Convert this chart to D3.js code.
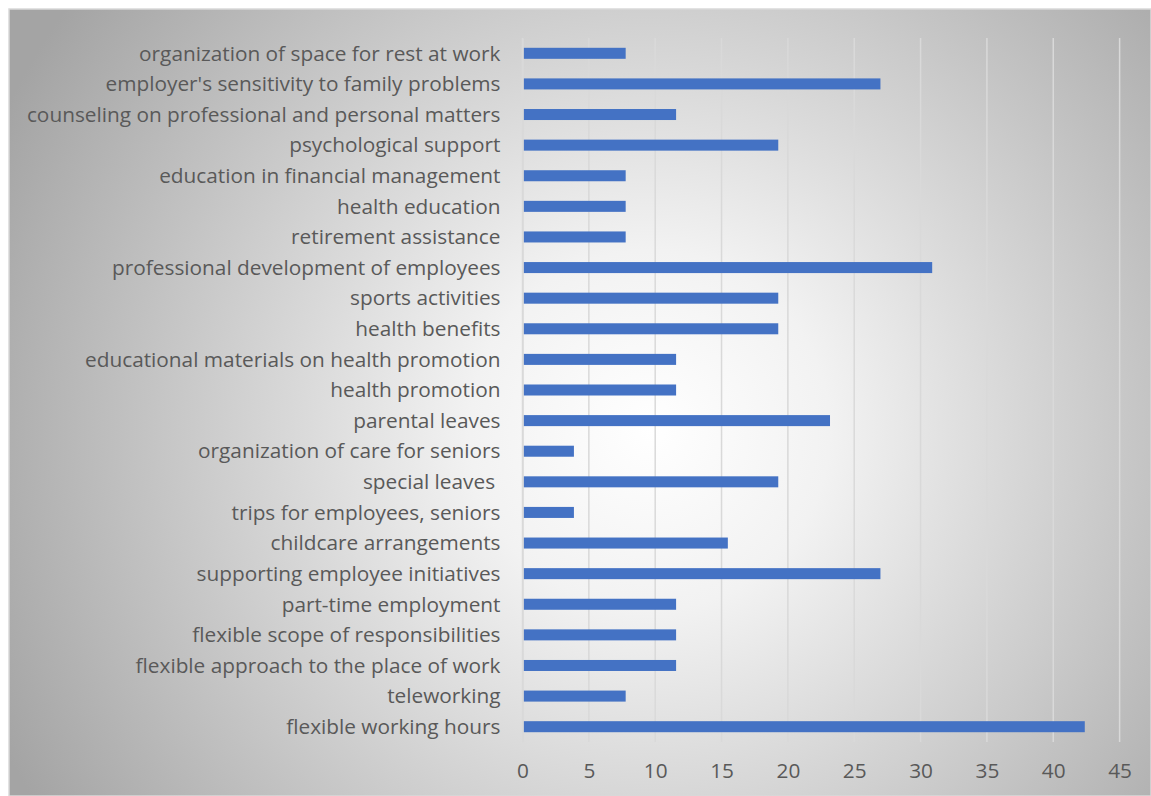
<!DOCTYPE html>
<html>
<head>
<meta charset="utf-8">
<script src="https://cdn.jsdelivr.net/npm/d3@7"></script>
<style>
  html, body { margin: 0; padding: 0; background: #fff; }
  svg { display: block; }
  text { font-family: "Open Sans", Lato, sans-serif; }
</style>
</head>
<body>
<svg id="chart" width="1151" height="796"></svg>
<script>
const categories = [
  "organization of space for rest at work",
  "employer's sensitivity to family problems",
  "counseling on professional and personal matters",
  "psychological support",
  "education in financial management",
  "health education",
  "retirement assistance",
  "professional development of employees",
  "sports activities",
  "health benefits",
  "educational materials on health promotion",
  "health promotion",
  "parental leaves",
  "organization of care for seniors",
  "special leaves ",
  "trips for employees, seniors",
  "childcare arrangements",
  "supporting employee initiatives",
  "part-time employment",
  "flexible scope of responsibilities",
  "flexible approach to the place of work",
  "teleworking",
  "flexible working hours"
];
const values = [7.7, 26.9, 11.5, 19.2, 7.7, 7.7, 7.7, 30.8, 19.2, 19.2, 11.5, 11.5, 23.1, 3.8, 19.2, 3.8, 15.4, 26.9, 11.5, 11.5, 11.5, 7.7, 42.3];
const xTicks = [0, 5, 10, 15, 20, 25, 30, 35, 40, 45];

const W = 1151, H = 796;
const svg = d3.select("#chart");
const defs = svg.append("defs");
const grad = defs.append("radialGradient")
  .attr("id", "bg").attr("gradientUnits", "userSpaceOnUse")
  .attr("cx", 650).attr("cy", 430).attr("r", 720);
grad.append("stop").attr("offset", "0%").attr("stop-color", "#ffffff");
grad.append("stop").attr("offset", "25%").attr("stop-color", "#f2f2f2");
grad.append("stop").attr("offset", "100%").attr("stop-color", "#a4a4a4");

svg.append("rect").attr("x", 0).attr("y", 0).attr("width", W).attr("height", H).attr("fill", "#ffffff");
svg.append("rect").attr("x", 9).attr("y", 9).attr("width", W - 9).attr("height", H - 9)
  .attr("fill", "url(#bg)").attr("stroke", "#d9d9d9").attr("stroke-width", 1.5);

const plot = { left: 522.5, right: 1119.6, top: 38, bottom: 742 };

const x = d3.scaleLinear().domain([0, 45]).range([plot.left, plot.right]);
const y = d3.scaleBand().domain(categories).range([plot.top, plot.bottom]).paddingInner(0.64).paddingOuter(0.32);

// gridlines
svg.append("g").selectAll("line").data(xTicks).join("line")
  .attr("x1", d => x(d)).attr("x2", d => x(d))
  .attr("y1", plot.top).attr("y2", plot.bottom)
  .attr("stroke", "#d9d9d9").attr("stroke-width", 1.5);

// bars
svg.append("g").selectAll("rect").data(values).join("rect")
  .attr("x", x(0) + 1)
  .attr("y", (d, i) => y(categories[i]))
  .attr("width", d => x(d) - x(0))
  .attr("height", y.bandwidth())
  .attr("fill", "#4472c4");

// y axis
const yAxis = d3.axisLeft(y).tickSize(0).tickPadding(22);
const gy = svg.append("g").attr("transform", `translate(${plot.left},0)`).call(yAxis);
gy.select(".domain").attr("stroke", "#d9d9d9").attr("stroke-width", 1.5);
gy.selectAll("text").attr("fill", "#595959").style("font-size", "20.8px")
  .style("white-space", "pre")
  .style("font-family", "'Open Sans', Lato, sans-serif").attr("dy", "0.35em");

// x axis
const xAxis = d3.axisBottom(x).tickValues(xTicks).tickSize(0).tickPadding(21);
const gx = svg.append("g").attr("transform", `translate(0,${plot.bottom})`).call(xAxis);
gx.select(".domain").remove();
gx.selectAll("text").attr("fill", "#595959").style("font-size", "20.8px")
  .style("font-family", "'Open Sans', Lato, sans-serif");
</script>
</body>
</html>
